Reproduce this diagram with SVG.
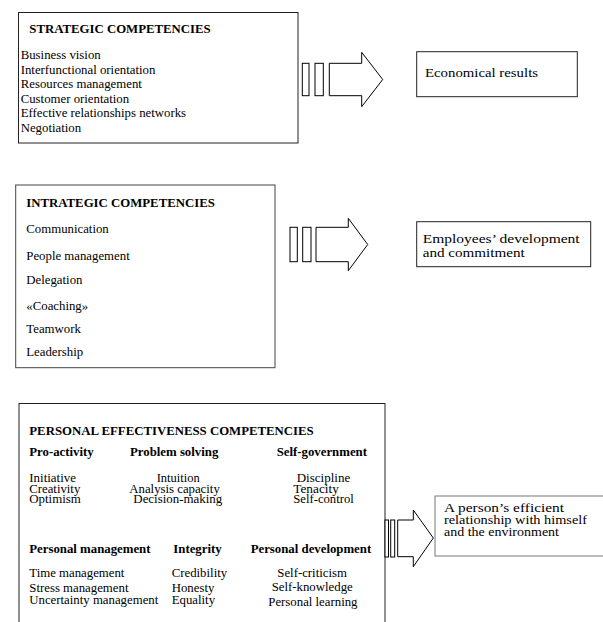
<svg xmlns="http://www.w3.org/2000/svg" width="603" height="622" viewBox="0 0 603 622">
<style>
  text { font-family: "Liberation Serif", "DejaVu Serif", "Times New Roman", serif; fill: #000; }
  .t { font-size: 12.8px; }
  .s { font-size: 12.4px; }
  .b { font-size: 12.8px; font-weight: bold; }
  .r { font-size: 13px; }
  .box { fill: #fff; stroke: #222; stroke-width: 1; }
  .gbox { fill: #fff; stroke: #777; stroke-width: 1; }
  .arr { fill: #fff; stroke: #000; stroke-width: 1; }
</style>
<rect width="603" height="622" fill="#fff"/>

<g id="strategic" font-family="Liberation Serif, serif">
  <rect class="box" x="18.5" y="12.5" width="279.5" height="130.5"/>
  <text class="b" x="29.3" y="32.7">STRATEGIC COMPETENCIES</text>
  <text class="t" x="20.7" y="59">Business vision</text>
  <text class="t" x="20.7" y="73.5">Interfunctional orientation</text>
  <text class="t" x="20.7" y="88">Resources management</text>
  <text class="t" x="20.7" y="102.5">Customer orientation</text>
  <text class="t" x="20.7" y="117">Effective relationships networks</text>
  <text class="t" x="20.7" y="131.5">Negotiation</text>
</g>

<g id="economical" font-family="Liberation Serif, serif">
  <rect class="box" x="416.7" y="51.7" width="160.6" height="45"/>
  <text class="r" x="425" y="77" textLength="113" lengthAdjust="spacingAndGlyphs">Economical results</text>
</g>

<g id="intrategic" font-family="Liberation Serif, serif">
  <rect class="box" x="15.7" y="185" width="259.3" height="182.7" style="stroke:#444"/>
  <text class="b" x="26.3" y="206.7">INTRATEGIC COMPETENCIES</text>
  <text class="t" x="26.3" y="232.5">Communication</text>
  <text class="t" x="26.3" y="260">People management</text>
  <text class="t" x="26.3" y="283.5">Delegation</text>
  <text class="t" x="26.3" y="310">«Coaching»</text>
  <text class="t" x="26.3" y="333.3">Teamwork</text>
  <text class="t" x="26.3" y="355.5">Leadership</text>
</g>

<g id="employees" font-family="Liberation Serif, serif">
  <rect class="box" x="416.7" y="221.7" width="174" height="45"/>
  <text class="r" x="422.7" y="243" textLength="157" lengthAdjust="spacingAndGlyphs">Employees’ development</text>
  <text class="r" x="422.7" y="256.7" textLength="102" lengthAdjust="spacingAndGlyphs">and commitment</text>
</g>

<g id="personal" font-family="Liberation Serif, serif">
  <rect class="box" x="19" y="403.5" width="366" height="230"/>
  <text class="b" x="29.3" y="435">PERSONAL EFFECTIVENESS COMPETENCIES</text>
  <text class="b" x="29.3" y="456">Pro-activity</text>
  <text class="b" x="130" y="456">Problem solving</text>
  <text class="b" x="276.7" y="456">Self-government</text>
  <text class="s" x="29.3" y="482" textLength="46.7" lengthAdjust="spacingAndGlyphs">Initiative</text>
  <text class="s" x="29.3" y="492.5" textLength="51" lengthAdjust="spacingAndGlyphs">Creativity</text>
  <text class="s" x="29.3" y="503" textLength="51.5" lengthAdjust="spacingAndGlyphs">Optimism</text>
  <text class="s" x="156.7" y="482" textLength="43" lengthAdjust="spacingAndGlyphs">Intuition</text>
  <text class="s" x="129.3" y="492.5" textLength="90.5" lengthAdjust="spacingAndGlyphs">Analysis capacity</text>
  <text class="s" x="133.3" y="503" textLength="89" lengthAdjust="spacingAndGlyphs">Decision-making</text>
  <text class="s" x="296.7" y="482" textLength="53.5" lengthAdjust="spacingAndGlyphs">Discipline</text>
  <text class="s" x="293.3" y="492.5" textLength="45.5" lengthAdjust="spacingAndGlyphs">Tenacity</text>
  <text class="s" x="293.3" y="503" textLength="60.5" lengthAdjust="spacingAndGlyphs">Self-control</text>
  <text class="b" x="29.3" y="552.5">Personal management</text>
  <text class="b" x="173.3" y="552.5">Integrity</text>
  <text class="b" x="250.7" y="552.5">Personal development</text>
  <text class="t" x="29.3" y="577">Time management</text>
  <text class="t" x="29.3" y="591.5">Stress management</text>
  <text class="t" x="29.3" y="604">Uncertainty management</text>
  <text class="t" x="171.7" y="577">Credibility</text>
  <text class="t" x="171.7" y="591.5">Honesty</text>
  <text class="t" x="171.7" y="603.5">Equality</text>
  <text class="t" x="277.3" y="576.5">Self-criticism</text>
  <text class="t" x="271.7" y="591">Self-knowledge</text>
  <text class="t" x="268.3" y="606">Personal learning</text>
</g>

<g id="relationship" font-family="Liberation Serif, serif">
  <rect class="gbox" x="435" y="496" width="175" height="60"/>
  <text class="r" x="444" y="512" textLength="120" lengthAdjust="spacingAndGlyphs">A person’s efficient</text>
  <text class="r" x="444" y="524" textLength="143" lengthAdjust="spacingAndGlyphs">relationship with himself</text>
  <text class="r" x="444" y="536" textLength="115" lengthAdjust="spacingAndGlyphs">and the environment</text>
</g>

<g id="connectors">
  <g id="arrow-strategic">
    <rect class="arr" x="302.3" y="63.3" width="6.7" height="32.4"/>
    <rect class="arr" x="315" y="63.3" width="8.3" height="32.4"/>
    <polygon class="arr" points="329.3,63.3 361.7,63.3 361.7,52.3 382.7,79.5 361.7,106.7 361.7,95.7 329.3,95.7"/>
  </g>
  <g id="arrow-intrategic">
    <rect class="arr" x="290" y="227.3" width="7.3" height="34.4"/>
    <rect class="arr" x="302.7" y="227.3" width="8.3" height="34.4"/>
    <polygon class="arr" points="316,227.3 348.3,227.3 348.3,218.3 367.7,244.5 348.3,270.7 348.3,261.7 316,261.7"/>
  </g>
  <g id="arrow-personal">
    <rect class="arr" x="385" y="520" width="3.5" height="37"/>
    <rect class="arr" x="390.7" y="520" width="4" height="37"/>
    <polygon class="arr" points="397.7,520 413.3,520 413.3,510 433.3,538 413.3,566.7 413.3,556.7 397.7,556.7"/>
  </g>
</g>
</svg>
